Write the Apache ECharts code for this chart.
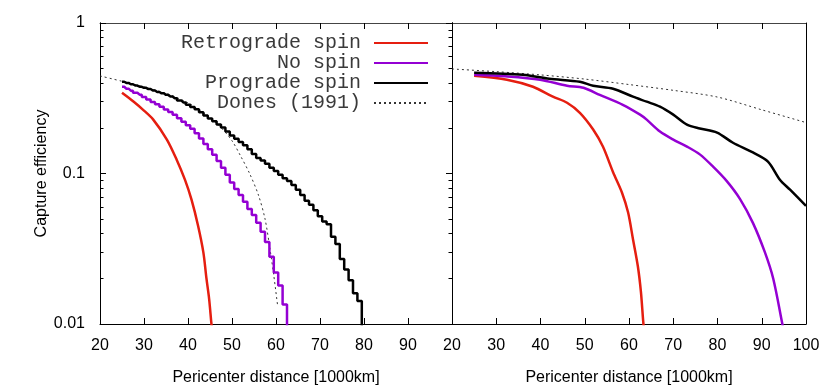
<!DOCTYPE html>
<html>
<head>
<meta charset="utf-8">
<script src="https://cdn.jsdelivr.net/npm/echarts@6/dist/echarts.min.js"></script>
<style>html,body{margin:0;padding:0;background:#fff;}#c{width:830px;height:391px;}</style>
</head>
<body>
<div id="c"></div>
<script>
// ---- Data ----
const xTicks = [20, 30, 40, 50, 60, 70, 80, 90, 100];
const yMajor = [0.01, 0.1, 1];
const yMinor = [0.02,0.03,0.04,0.05,0.06,0.07,0.08,0.09,0.2,0.3,0.4,0.5,0.6,0.7,0.8,0.9];

// Left panel
const retroLX = [25, 27.6, 29.8, 32.1, 35.2, 37.4, 39.3, 40.8, 42.3, 43.5, 44.2, 44.8, 45.3, 45.5];
const retroLY = [0.344, 0.301, 0.265, 0.228, 0.168, 0.124, 0.091, 0.067, 0.0448, 0.0298, 0.02, 0.0147, 0.0102, 0.009];

const noLX = [25,26,27,28,29,30,31,32,33,34,35,36,37,38,39,40,41,42,43,44,45,46,47,48,49,50,51,52,53,54,55,56,57,58,59,60,61,62,63];
const noLY = [0.377,0.366,0.355,0.344,0.334,0.322,0.310,0.299,0.288,0.278,0.266,0.256,0.246,0.233,0.221,0.209,0.198,0.185,0.171,0.157,0.145,0.133,0.121,0.109,0.098,0.087,0.079,0.072,0.065,0.058,0.053,0.047,0.041,0.035,0.028,0.022,0.018,0.0135,0.0095];

const proLX = [25,26,27,28,29,30,31,32,33,34,35,36,37,38,39,40,41,42,43,44,45,46,47,48,49,50,51,52,53,54,55,56,57,58,59,60,61,62,63,64,65,66,67,68,69,70,71,72,73,74,75,76,77,78,79,80];
const proLY = [0.407,0.400,0.392,0.384,0.377,0.371,0.364,0.356,0.348,0.341,0.333,0.325,0.316,0.305,0.296,0.286,0.277,0.267,0.255,0.243,0.232,0.222,0.212,0.202,0.190,0.179,0.170,0.162,0.154,0.145,0.135,0.127,0.122,0.116,0.109,0.104,0.098,0.093,0.089,0.084,0.078,0.072,0.066,0.062,0.057,0.052,0.048,0.046,0.038,0.034,0.027,0.023,0.0195,0.016,0.0142,0.0085];

const donesLX = [20, 25, 30, 35, 40, 45, 47.5, 50, 52, 54, 56, 57.5, 58.6, 59.5, 60.4];
const donesLY = [0.445, 0.41, 0.375, 0.34, 0.295, 0.235, 0.202, 0.165, 0.13, 0.1, 0.072, 0.05, 0.032, 0.021, 0.013];

// Right panel
const retroRX = [25, 32.4, 38.3, 42.8, 46, 48.9, 51.9, 54.1, 56.4, 58.4, 59.8, 60.9, 62, 62.7, 63.2, 63.4];
const retroRY = [0.446, 0.42, 0.377, 0.324, 0.295, 0.253, 0.196, 0.151, 0.102, 0.0748, 0.055, 0.0366, 0.0242, 0.0163, 0.0105, 0.0092];

const noRX = [25, 32, 39.9, 46, 49.7, 53.4, 58.6, 62.5, 64, 67, 70, 73.1, 76, 79, 82.1, 85.1, 88, 90.7, 92.6, 94.6, 95];
const noRY = [0.453, 0.442, 0.42, 0.383, 0.371, 0.333, 0.286, 0.246, 0.228, 0.19, 0.168, 0.151, 0.134, 0.111, 0.089, 0.0676, 0.047, 0.030, 0.020, 0.0102, 0.0088];

const proRX = [25, 36, 42, 48.9, 51.9, 56.4, 60.9, 64, 67, 70, 73.1, 76, 79.9, 83.5, 88, 91.4, 94.1, 96.4, 100];
const proRY = [0.467, 0.453, 0.426, 0.407, 0.383, 0.366, 0.324, 0.30, 0.278, 0.246, 0.211, 0.199, 0.187, 0.160, 0.138, 0.120, 0.091, 0.078, 0.061];

const donesRX = [20, 30, 40, 50, 60, 70, 80, 90, 100];
const donesRY = [0.495, 0.475, 0.452, 0.424, 0.39, 0.357, 0.322, 0.265, 0.218];

const names = ['Retrograde spin', 'No spin', 'Prograde spin', 'Dones (1991)'];
const colors = ['#e51e10', '#9400d3', '#000000', '#333333'];

// ---- Build ----
const zip = (xs, ys) => xs.map((x, i) => [x, ys[i]]);
const sans = 'Liberation Sans, Arial, sans-serif';

function xAx(grid, pos, labels, hide100) {
  return {
    type: 'value', gridIndex: grid, position: pos, min: 20, max: 100, interval: 10,
    axisLine: { show: true, lineStyle: { color: pos === 'top' ? '#444' : '#000', width: 1 } },
    axisTick: { show: true, inside: true, length: 6, lineStyle: { color: '#000' } },
    axisLabel: labels ? {
      show: true, color: '#000', fontFamily: sans, fontSize: 16, margin: 14,
      formatter: v => (hide100 && v === 100) ? '' : String(v)
    } : { show: false },
    splitLine: { show: false },
    name: labels ? 'Pericenter distance [1000km]' : '',
    nameLocation: 'middle', nameGap: 46,
    nameTextStyle: { color: '#000', fontFamily: sans, fontSize: 16 }
  };
}
function yAx(grid, pos, opts) {
  return Object.assign({
    type: 'log', logBase: 10, gridIndex: grid, position: pos, min: 0.01, max: 1,
    axisLine: { show: true, lineStyle: { color: '#000', width: 1 } },
    axisTick: { show: false },
    axisLabel: { show: false },
    splitLine: { show: false }, minorTick: { show: false }
  }, opts);
}
const majorTick = { show: true, inside: true, length: 6, customValues: yMajor, lineStyle: { color: '#000' } };
const minorTick = { show: true, inside: true, length: 3.5, customValues: yMinor, lineStyle: { color: '#000' } };

function line(name, data, xi, yi, color, opts) {
  return Object.assign({
    name, type: 'line', data, xAxisIndex: xi, yAxisIndex: yi, symbol: 'none', clip: true,
    lineStyle: { color, width: 2.5 }, itemStyle: { color }, animation: false, z: 3
  }, opts);
}

const option = {
  animation: false,
  backgroundColor: '#fff',
  grid: [
    { left: 100, top: 23, width: 352, height: 302 },
    { left: 452, top: 23, width: 354, height: 302 }
  ],
  xAxis: [
    xAx(0, 'bottom', true, true),
    xAx(1, 'bottom', true, false),
    xAx(0, 'top', false),
    xAx(1, 'top', false)
  ],
  yAxis: [
    yAx(0, 'left', {
      axisTick: majorTick,
      axisLabel: { show: true, color: '#000', fontFamily: sans, fontSize: 16, margin: 15, customValues: yMajor },
      name: 'Capture efficiency', nameLocation: 'middle', nameGap: 48, nameRotate: 90,
      nameTextStyle: { color: '#000', fontFamily: sans, fontSize: 16 }
    }),
    yAx(0, 'left', { axisTick: minorTick }),
    yAx(0, 'right', { axisTick: majorTick }),
    yAx(0, 'right', { axisTick: minorTick }),
    yAx(1, 'left', {}),
    yAx(1, 'right', {})
  ],
  legend: {
    data: names, orient: 'vertical', right: 396, top: 28, align: 'right',
    itemWidth: 54, itemHeight: 14, itemGap: 0,
    itemStyle: { opacity: 0 },
    textStyle: { fontFamily: 'Liberation Mono, Courier New, monospace', fontSize: 20, lineHeight: 20, color: '#3a3a3a', padding: [0, 8, 0, 0] },
    selectedMode: false
  },
  series: [
    line(names[0], zip(retroLX, retroLY), 0, 0, colors[0], { smooth: 0.3 }),
    line(names[1], zip(noLX, noLY), 0, 0, colors[1], { step: 'middle' }),
    line(names[2], zip(proLX, proLY), 0, 0, colors[2], { step: 'middle' }),
    line(names[3], zip(donesLX, donesLY), 0, 0, colors[3], { smooth: 0.3, lineStyle: { color: colors[3], width: 1, type: [2, 3] }, z: 2 }),
    line(names[0], zip(retroRX, retroRY), 1, 4, colors[0], { smooth: 0.3 }),
    line(names[1], zip(noRX, noRY), 1, 4, colors[1], { smooth: 0.3 }),
    line(names[2], zip(proRX, proRY), 1, 4, colors[2], { smooth: 0.3 }),
    line(names[3], zip(donesRX, donesRY), 1, 4, colors[3], { smooth: 0.3, lineStyle: { color: colors[3], width: 1, type: [2, 3] }, z: 2 })
  ]
};
const chart = echarts.init(document.getElementById('c'), null, { renderer: 'canvas' });
chart.setOption(option);
</script>
</body>
</html>
